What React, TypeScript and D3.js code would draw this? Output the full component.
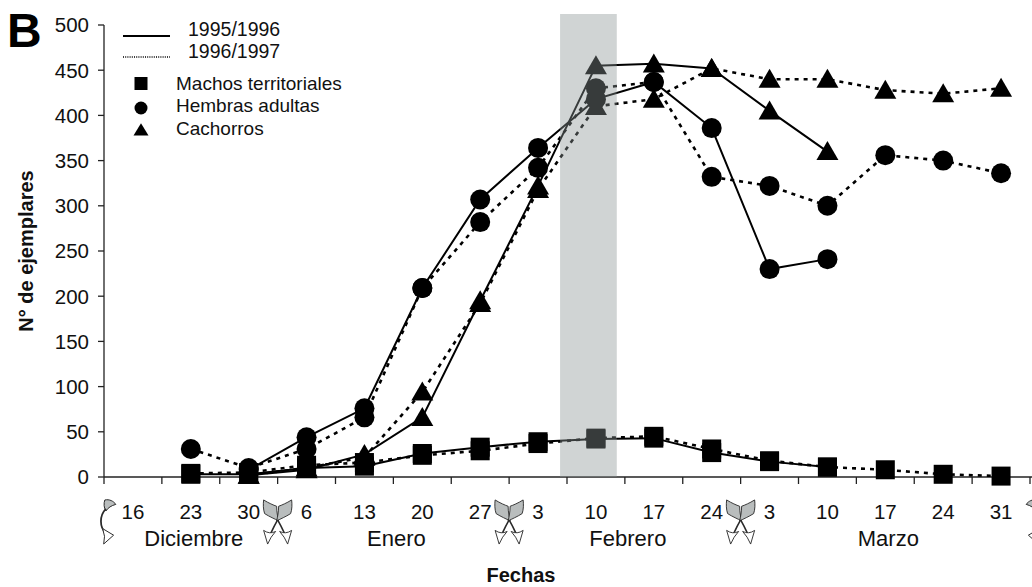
import React from "react";
import * as d3 from "d3";

// ---- data ----
const days = ["16", "23", "30", "6", "13", "20", "27", "3", "10", "17", "24", "3", "10", "17", "24", "31"];
const monthNames = ["Diciembre", "Enero", "Febrero", "Marzo"];
const monthSpans: [number, number][] = [[0, 3], [3, 7], [7, 11], [11, 16]];
const monthSeparators = [0, 3, 7, 11, 16];
const yTicks = [0, 50, 100, 150, 200, 250, 300, 350, 400, 450, 500];
const shadeSpan: [number, number] = [7.88, 8.86];

const machos9596 = [null, 3, 3, 10, 12, 26, 33, 39, 42, 43, 27, 17, 11, null, null, null];
const machos9697 = [null, 4, 5, 13, 16, 24, 29, 37, 43, 45, 31, 18, 11, 8, 3, 1];
const hembras9596 = [null, null, 8, 44, 76, 209, 307, 364, 418, 437, 386, 230, 241, null, null, null];
const hembras9697 = [null, 31, 10, 31, 66, 209, 282, 342, 430, 437, 332, 322, 300, 356, 350, 336];
const cachorros9596 = [null, null, 2, 8, 25, 66, 195, 322, 455, 457, 452, 405, 360, null, null, null];
const cachorros9697 = [null, null, 2, 10, 22, 94, 192, 318, 410, 418, 452, 440, 440, 428, 424, 430];

const seasonLabels = ["1995/1996", "1996/1997"];
const groupLabels = ["Machos territoriales", "Hembras adultas", "Cachorros"];

type Shape = "square" | "circle" | "triangle";
const series: { values: (number | null)[]; shape: Shape; dotted: boolean }[] = [
  { values: cachorros9596, shape: "triangle", dotted: false },
  { values: cachorros9697, shape: "triangle", dotted: true },
  { values: hembras9596, shape: "circle", dotted: false },
  { values: hembras9697, shape: "circle", dotted: true },
  { values: machos9596, shape: "square", dotted: false },
  { values: machos9697, shape: "square", dotted: true },
];

const W = 1032;
const H = 587;
const FONT = "'Liberation Sans', Arial, Helvetica, sans-serif";
const INK = "#111";

function Marker({ shape, cx, cy, s, fill }: { shape: Shape; cx: number; cy: number; s: number; fill: string }) {
  if (shape === "square") return <rect x={cx - s / 2} y={cy - s / 2} width={s} height={s} fill={fill} />;
  if (shape === "circle") return <circle cx={cx} cy={cy} r={s / 2} fill={fill} />;
  const h = s * 0.95;
  return (
    <path
      d={`M${cx},${cy - h * 0.55} L${cx + s / 2 + 1},${cy + h * 0.45} L${cx - s / 2 - 1},${cy + h * 0.45} Z`}
      fill={fill}
    />
  );
}

function ArrowHalf() {
  return (
    <g stroke="#2a2a2a" strokeWidth={0.9} strokeLinejoin="round">
      <path
        d="M -14,-21 C -9,-18 -4,-16 -1,-15 C -1,-10 0,-5 1,-1 C -3,-3 -8,-5 -13,-8 C -14.5,-12 -14.5,-17 -14,-21 Z"
        fill="#b9bdbd"
      />
      <path d="M 0,-2 C 3,3 5,7 7,11" fill="none" strokeWidth={1.6} />
      <path d="M 2,9 Q 8,12 14,8 L 10,21 Q 7,14 2,9 Z" fill="#fff" />
    </g>
  );
}

function DoubleGlyph({ cx, cy }: { cx: number; cy: number }) {
  return (
    <g transform={`translate(${cx},${cy}) scale(1,1.05)`}>
      <ArrowHalf />
      <g transform="scale(-1,1)">
        <ArrowHalf />
      </g>
    </g>
  );
}

function CGlyph({ cx, cy, mirror }: { cx: number; cy: number; mirror: boolean }) {
  return (
    <g transform={`translate(${cx},${cy}) scale(${mirror ? -1.1 : 1.1},1.1)`} stroke="#2a2a2a" strokeWidth={0.9} strokeLinejoin="round">
      <path d="M -2,-20 C 2,-21 6,-19 8,-16 C 4,-15 1,-13 -1,-10 C -3,-13 -3,-17 -2,-20 Z" fill="#b9bdbd" />
      <path d="M -1,-12 C -7,-6 -7,5 -1,10" fill="none" strokeWidth={1.6} />
      <path d="M -4,6 Q 1,9 6,12 L -3,20 Q -1,13 -4,6 Z" fill="#fff" />
    </g>
  );
}

export default function App() {
  const x = d3.scaleBand<number>().domain(d3.range(days.length)).range([104, 1030]).padding(0);
  const xc = (i: number) => (x(i) as number) + x.bandwidth() / 2;
  const xb = d3.scaleLinear().domain([0, days.length]).range([104, 1030]);
  const y = d3.scaleLinear().domain([0, 500]).range([477, 25]);

  const line = d3
    .line<number | null>()
    .defined((d) => d != null)
    .x((_, i) => xc(i))
    .y((d) => y(d as number));

  const glyphY = 522;

  return (
    <svg
      width={W}
      height={H}
      style={{ position: "absolute", left: 0, top: 0, background: "#fff" }}
      fontFamily={FONT}
    >
      <rect width={W} height={H} fill="#fff" />

      {/* panel letter */}
      <text x={7} y={47} fontSize={48} fontWeight="bold" fill="#000">B</text>

      {/* axes */}
      <line x1={104} x2={104} y1={y(500)} y2={y(0)} stroke="#222" strokeWidth={1.3} />
      <line x1={104} x2={1032} y1={y(0)} y2={y(0)} stroke="#222" strokeWidth={1.3} />
      {yTicks.map((t) => (
        <g key={t}>
          <line x1={98} x2={104} y1={y(t)} y2={y(t)} stroke="#222" strokeWidth={1.3} />
          <text x={89} y={y(t)} dy="0.36em" textAnchor="end" fontSize={20.5} fill={INK}>{t}</text>
        </g>
      ))}
      {d3.range(days.length + 1).map((b) => (
        <line key={b} x1={xb(b)} x2={xb(b)} y1={y(0)} y2={y(0) + 7} stroke="#222" strokeWidth={1.3} />
      ))}
      {days.map((d, i) => (
        <text key={i} x={xc(i)} y={519} textAnchor="middle" fontSize={20.5} fill={INK}>{d}</text>
      ))}
      {monthNames.map((m, k) => (
        <text key={m} x={xb((monthSpans[k][0] + monthSpans[k][1]) / 2) + 3} y={546} textAnchor="middle" fontSize={22} fill={INK}>{m}</text>
      ))}

      {/* month separator glyphs */}
      {monthSeparators.map((b, k) =>
        k === 0 ? (
          <CGlyph key={b} cx={xb(b) + 3} cy={glyphY} mirror={false} />
        ) : k === monthSeparators.length - 1 ? (
          <CGlyph key={b} cx={xb(b) + 5} cy={glyphY} mirror={true} />
        ) : (
          <DoubleGlyph key={b} cx={xb(b)} cy={glyphY} />
        )
      )}

      {/* axis titles */}
      <text x={521} y={582} textAnchor="middle" fontSize={20} fontWeight="bold" fill={INK}>Fechas</text>
      <text transform={`translate(33,${251}) rotate(-90)`} textAnchor="middle" fontSize={20} fontWeight="bold" fill={INK}>
        N° de ejemplares
      </text>

      {/* lines */}
      {series.map((s, k) => (
        <path
          key={k}
          d={line(s.values) || ""}
          fill="none"
          stroke="#000"
          strokeWidth={s.dotted ? 2.6 : 2}
          strokeDasharray={s.dotted ? "4 5" : undefined}
        />
      ))}
      {/* markers */}
      {series.map((s, k) =>
        s.values.map((v, i) =>
          v == null ? null : <Marker key={`${k}-${i}`} shape={s.shape} cx={xc(i)} cy={y(v)} s={s.shape === "square" ? 19 : 20} fill="#000" />
        )
      )}

      {/* shaded period */}
      <rect
        x={xb(shadeSpan[0])}
        y={14}
        width={xb(shadeSpan[1]) - xb(shadeSpan[0])}
        height={y(0) - 14}
        fill="#899393"
        fillOpacity={0.4}
      />

      {/* legend */}
      <line x1={123} x2={170} y1={36} y2={36} stroke="#000" strokeWidth={2} />
      <line x1={123} x2={170} y1={57} y2={57} stroke="#000" strokeWidth={1.6} strokeDasharray="1 1.2" />
      <text x={188} y={28.5} dy="0.36em" fontSize={19.5} fill={INK}>{seasonLabels[0]}</text>
      <text x={188} y={51} dy="0.36em" fontSize={19.5} fill={INK}>{seasonLabels[1]}</text>
      {(["square", "circle", "triangle"] as Shape[]).map((sh, k) => (
        <g key={sh}>
          <Marker shape={sh} cx={141} cy={[83.5, 108, 130][k]} s={13} fill="#000" />
          <text x={176} y={[83.5, 105, 128][k]} dy="0.36em" fontSize={19} fill={INK}>{groupLabels[k]}</text>
        </g>
      ))}
    </svg>
  );
}
